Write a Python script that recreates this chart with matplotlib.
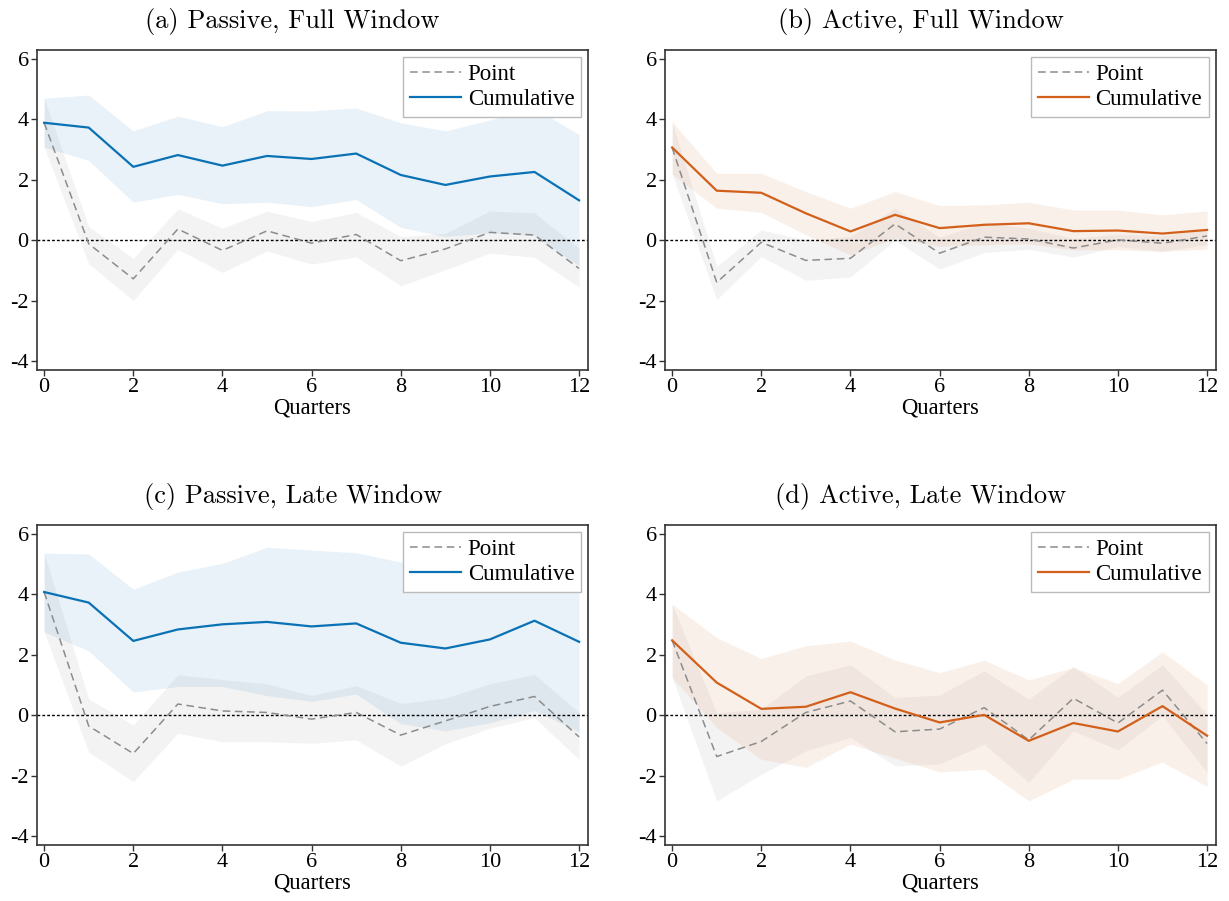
import numpy as np
import matplotlib
matplotlib.use("Agg")
import matplotlib.pyplot as plt

plt.rcParams['font.family'] = ['Liberation Serif', 'DejaVu Serif']
plt.rcParams['axes.unicode_minus'] = False

quarters = np.arange(13)

# (a) Passive, Full Window
a_cum = [3.89, 3.73, 2.43, 2.82, 2.47, 2.79, 2.69, 2.87, 2.16, 1.83, 2.11, 2.26, 1.32]
a_cum_hi = [4.70, 4.81, 3.62, 4.11, 3.76, 4.29, 4.28, 4.38, 3.89, 3.62, 3.98, 4.37, 3.50]
a_cum_lo = [3.08, 2.64, 1.26, 1.52, 1.21, 1.26, 1.11, 1.35, 0.42, 0.12, 0.25, 0.15, -0.85]
a_pt = [3.89, -0.12, -1.28, 0.37, -0.34, 0.31, -0.10, 0.19, -0.68, -0.29, 0.26, 0.17, -0.94]
a_pt_hi = [4.70, 0.45, -0.60, 1.04, 0.40, 0.96, 0.62, 0.92, 0.12, 0.23, 0.97, 0.90, -0.26]
a_pt_lo = [3.08, -0.78, -2.00, -0.30, -1.07, -0.36, -0.79, -0.56, -1.51, -0.98, -0.43, -0.57, -1.55]

# (b) Active, Full Window
b_cum = [3.07, 1.64, 1.57, 0.89, 0.29, 0.84, 0.40, 0.51, 0.56, 0.30, 0.32, 0.22, 0.34]
b_cum_hi = [3.92, 2.22, 2.22, 1.61, 1.06, 1.61, 1.15, 1.17, 1.26, 1.00, 1.00, 0.84, 0.97]
b_cum_lo = [2.19, 1.06, 0.92, 0.18, -0.49, 0.07, -0.21, -0.15, -0.12, -0.32, -0.32, -0.37, -0.30]
b_pt = [3.07, -1.40, -0.07, -0.67, -0.60, 0.54, -0.43, 0.10, 0.04, -0.26, 0.01, -0.10, 0.14]
b_pt_hi = [3.92, -0.87, 0.34, 0.00, 0.12, 1.06, 0.10, 0.58, 0.40, 0.06, 0.20, 0.15, 0.35]
b_pt_lo = [2.19, -1.97, -0.54, -1.33, -1.22, 0.00, -0.96, -0.41, -0.30, -0.56, -0.21, -0.37, -0.15]

# (c) Passive, Late Window
c_cum = [4.08, 3.73, 2.46, 2.84, 3.01, 3.09, 2.94, 3.04, 2.40, 2.21, 2.51, 3.13, 2.43]
c_cum_hi = [5.37, 5.34, 4.17, 4.74, 5.03, 5.56, 5.47, 5.38, 5.07, 4.97, 5.25, 5.90, 5.40]
c_cum_lo = [2.76, 2.13, 0.77, 0.95, 0.95, 0.65, 0.46, 0.70, -0.28, -0.52, -0.25, 0.15, -0.55]
c_pt = [4.08, -0.36, -1.27, 0.37, 0.14, 0.09, -0.13, 0.09, -0.66, -0.19, 0.29, 0.62, -0.72]
c_pt_hi = [5.37, 0.54, -0.32, 1.34, 1.18, 1.04, 0.65, 0.98, 0.39, 0.57, 1.04, 1.35, 0.09]
c_pt_lo = [2.76, -1.22, -2.20, -0.60, -0.88, -0.88, -0.93, -0.82, -1.69, -0.95, -0.43, -0.08, -1.47]

# (d) Active, Late Window
d_cum = [2.48, 1.08, 0.21, 0.28, 0.76, 0.22, -0.24, 0.01, -0.85, -0.26, -0.54, 0.30, -0.68]
d_cum_hi = [3.68, 2.57, 1.88, 2.30, 2.46, 1.83, 1.41, 1.82, 1.17, 1.58, 1.05, 2.10, 1.00]
d_cum_lo = [1.25, -0.41, -1.46, -1.73, -0.96, -1.42, -1.88, -1.79, -2.84, -2.12, -2.12, -1.55, -2.36]
d_pt = [2.48, -1.37, -0.87, 0.09, 0.47, -0.55, -0.46, 0.25, -0.82, 0.56, -0.26, 0.83, -0.94]
d_pt_hi = [3.68, 0.08, 0.20, 1.30, 1.67, 0.59, 0.67, 1.47, 0.53, 1.61, 0.59, 1.67, 0.02]
d_pt_lo = [1.25, -2.84, -1.96, -1.18, -0.74, -1.68, -1.62, -0.96, -2.23, -0.52, -1.15, -0.02, -1.90]

titles = ["(a) Passive, Full Window", "(b) Active, Full Window",
          "(c) Passive, Late Window", "(d) Active, Late Window"]
blue = '#0A72B4'
orange = '#D2601A'

panels = [
    (a_cum, a_cum_lo, a_cum_hi, a_pt, a_pt_lo, a_pt_hi, blue),
    (b_cum, b_cum_lo, b_cum_hi, b_pt, b_pt_lo, b_pt_hi, orange),
    (c_cum, c_cum_lo, c_cum_hi, c_pt, c_pt_lo, c_pt_hi, blue),
    (d_cum, d_cum_lo, d_cum_hi, d_pt, d_pt_lo, d_pt_hi, orange),
]

W, H = 1229, 901
boxes = [(37, 50), (665, 50), (37, 525), (665, 525)]
aw, ah = 551, 320

fig = plt.figure(figsize=(12.29, 9.01), dpi=100)

for (x0, y0), title, (cum, cum_lo, cum_hi, pt, pt_lo, pt_hi, col) in zip(boxes, titles, panels):
    ax = fig.add_axes([x0 / W, 1 - (y0 + ah) / H, aw / W, ah / H])

    # confidence bands
    ax.fill_between(quarters, pt_lo, pt_hi, color='#9a9a9a', alpha=0.11, lw=0)
    ax.fill_between(quarters, cum_lo, cum_hi, color=col, alpha=0.09, lw=0)

    ax.axhline(0, color='black', ls=(0, (2, 1.5)), lw=1.0, zorder=2)
    ax.plot(quarters, pt, color='#8c8c8c', ls=(0, (5, 3)), lw=1.1, label='Point', zorder=3)
    ax.plot(quarters, cum, color=col, lw=1.6, label='Cumulative', zorder=4)

    ax.set_xlim(-0.16, 12.2)
    ax.set_ylim(-4.3, 6.3)
    ax.set_xticks(range(0, 13, 2))
    ax.set_yticks(range(-4, 7, 2))
    ax.tick_params(labelsize=16, length=4, width=1, color='#333333', pad=2)
    ax.set_xlabel('Quarters', fontsize=16.3, labelpad=0)
    ax.set_title(title, fontfamily='cmr10', fontsize=19, pad=16)
    ax.title.set_x(0.464)
    for s in ax.spines.values():
        s.set_color('#333333')
        s.set_linewidth(1.2)

    leg = ax.legend(loc='upper right', fontsize=16.5, fancybox=False, framealpha=1,
                    edgecolor='#bbbbbb', handlelength=2.2, borderaxespad=0.3,
                    labelspacing=0.2, borderpad=0.3, handletextpad=0.3)
    leg.get_frame().set_linewidth(1.0)

fig.savefig('out.png', dpi=100)
